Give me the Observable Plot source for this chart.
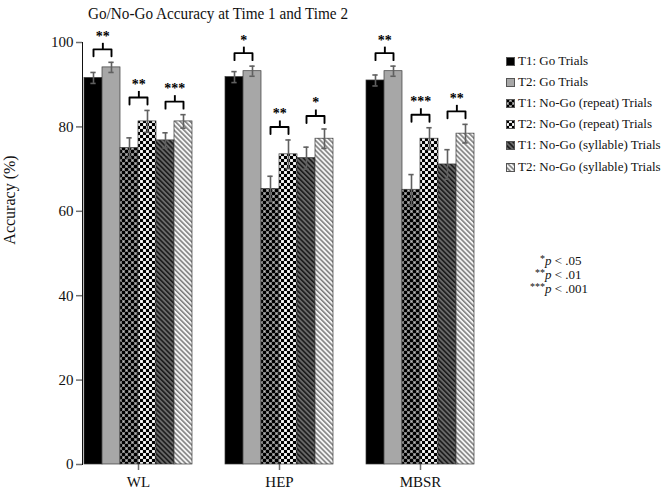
<!DOCTYPE html>
<html><head><meta charset="utf-8">
<script src="https://cdn.jsdelivr.net/npm/d3@7"></script>
<script src="https://cdn.jsdelivr.net/npm/@observablehq/plot@0.6"></script>
<style>
body{margin:0;background:#fff;}
#wrap{position:relative;width:664px;height:492px;font-family:"Liberation Serif","Times New Roman",serif;color:#111;}
#title{position:absolute;left:0;width:436px;top:2px;text-align:center;font-size:17.5px;line-height:22px;transform:scaleX(0.87);transform-origin:218px 0;}
#ylab{position:absolute;left:10px;top:200px;transform:translate(-50%,-50%) rotate(-90deg);font-size:16px;white-space:nowrap;}
#legend{position:absolute;left:505px;top:53px;}
.lrow{position:absolute;left:0;height:16px;line-height:16px;font-size:13px;white-space:nowrap;}
.lrow svg{position:absolute;left:1px;top:4px;}
.lrow span{position:absolute;left:13px;top:0;}
#sig{position:absolute;left:522px;top:254px;font-size:13px;}
.srow{position:absolute;left:0;height:14px;line-height:14px;white-space:nowrap;}
.srow .st{display:inline-block;width:23px;text-align:right;font-size:10px;vertical-align:top;position:relative;top:-2px;}
.srow i{font-style:italic;}
#wrap svg g[aria-label^="y-axis"] path, #wrap svg g[aria-label^="y-axis"] line,
#wrap svg g[aria-label^="fx-axis"] path, #wrap svg g[aria-label^="fx-axis"] line{stroke:#707070;stroke-width:1.5;}
</style></head><body>
<svg width="0" height="0" style="position:absolute">
<defs>
<pattern id="pRep1" width="6" height="6" patternUnits="userSpaceOnUse">
<rect width="6" height="6" fill="#7a7a7a"/><rect width="3" height="3" fill="#000"/><rect x="3" y="3" width="3" height="3" fill="#000"/>
<rect x="4" y="1" width="1" height="1" fill="#bbb"/><rect x="1" y="4" width="1" height="1" fill="#bbb"/>
</pattern>
<pattern id="pRep2" width="6" height="6" patternUnits="userSpaceOnUse">
<rect width="6" height="6" fill="#d0d0d0"/><rect width="3" height="3" fill="#000"/><rect x="3" y="3" width="3" height="3" fill="#000"/>
<rect x="3.5" y="0.5" width="2" height="2" fill="#fff"/><rect x="0.5" y="3.5" width="2" height="2" fill="#fff"/>
</pattern>
<pattern id="pSyl1" width="3.5" height="3.5" patternUnits="userSpaceOnUse" patternTransform="rotate(-45)">
<rect width="3.5" height="3.5" fill="#6a6a6a"/><rect width="1.6" height="3.5" fill="#1a1a1a"/>
</pattern>
<pattern id="pSyl2" width="3.5" height="3.5" patternUnits="userSpaceOnUse" patternTransform="rotate(-45)">
<rect width="3.5" height="3.5" fill="#f4f4f4"/><rect width="1.5" height="3.5" fill="#7a7a7a"/>
</pattern>
</defs>
</svg>
<div id="wrap">
<div id="title">Go/No-Go Accuracy at Time 1 and Time 2</div>
<div id="ylab">Accuracy (%)</div>
<div id="legend"></div>
<div id="sig"></div>
</div>
<script>
// ---- data ----
const groups = ["WL", "HEP", "MBSR"];
const series = [
  "T1: Go Trials",
  "T2: Go Trials",
  "T1: No-Go (repeat) Trials",
  "T2: No-Go (repeat) Trials",
  "T1: No-Go (syllable) Trials",
  "T2: No-Go (syllable) Trials"
];
const meansWL   = [91.6, 94.1, 75.0, 81.3, 76.8, 81.3];
const meansHEP  = [91.8, 93.2, 65.3, 73.5, 72.6, 77.2];
const meansMBSR = [91.0, 93.2, 65.1, 77.2, 71.1, 78.4];
const errWL   = [1.3, 1.2, 2.4, 2.6, 1.8, 1.6];
const errHEP  = [1.3, 1.2, 3.0, 3.4, 2.6, 2.3];
const errMBSR = [1.3, 1.2, 3.6, 2.6, 3.5, 2.2];
const sigWL   = ["**", "**", "***"];
const sigHEP  = ["*", "**", "*"];
const sigMBSR = ["**", "***", "**"];
const yTicks = [0, 20, 40, 60, 80, 100];
const sigNotes = [["*", ".05"], ["**", ".01"], ["***", ".001"]];

// ---- styles ----
const fills = ["#000000", "#a7a7a7", "url(#pRep1)", "url(#pRep2)", "url(#pSyl1)", "url(#pSyl2)"];

// ---- layout ----
const W = 664, H = 492, mT = 42, mB = 28, mL = 59, mR = 173;
const ppu = (H - mT - mB) / 100; // px per % unit
const padIn = 0.205, padOut = 0.132, align = 0.617;
const fxStep = (W - mL - mR) / (groups.length - padIn + 2 * padOut);
const barStep = fxStep * (1 - padIn) / series.length;

const means = [meansWL, meansHEP, meansMBSR];
const errs = [errWL, errHEP, errMBSR];
const sigs = [sigWL, sigHEP, sigMBSR];

const rows = [];
groups.forEach((g, gi) => series.forEach((s, si) => rows.push({group: g, series: s, value: means[gi][si], err: errs[gi][si]})));

const brackets = [], bracketPts = [];
groups.forEach((g, gi) => {
  [[0, 1], [2, 3], [4, 5]].forEach(([a, b], k) => {
    const top = Math.max(means[gi][a] + errs[gi][a], means[gi][b] + errs[gi][b]);
    const id = g + k;
    const yEnd = top + 6 / ppu, yLine = top + 13 / ppu, yPeak = top + 19.5 / ppu, yStar = top + 26 / ppu;
    brackets.push({group: g, a: series[a], yLine, yPeak, yStar, label: sigs[gi][k]});
    bracketPts.push({id, group: g, series: series[a], y: yEnd}, {id, group: g, series: series[a], y: yLine},
                    {id, group: g, series: series[b], y: yLine}, {id, group: g, series: series[b], y: yEnd});
  });
});

const chart = Plot.plot({
  width: W, height: H, marginTop: mT, marginBottom: mB, marginLeft: mL, marginRight: mR,
  style: {fontFamily: '"Liberation Serif","Times New Roman",serif', fontSize: "15px", color: "#111", background: "transparent"},
  fx: {domain: groups, paddingInner: padIn, paddingOuter: padOut, align, label: null, tickSize: 6, tickPadding: 6, line: true},
  x: {domain: series, padding: 0, axis: null},
  y: {domain: [0, 100], ticks: yTicks, tickSize: 6, tickPadding: 3, line: true, label: null},
  color: {domain: series, range: fills},
  marks: [
    Plot.barY(rows, {fx: "group", x: "series", y: "value", fill: "series", stroke: "#3a3a3a", strokeWidth: 0.7}),
    Plot.ruleX(rows, {fx: "group", x: "series", y1: d => d.value - d.err, y2: d => d.value + d.err, stroke: "#606060", strokeWidth: 1.6}),
    Plot.tickY(rows, {fx: "group", x: "series", y: d => d.value + d.err, stroke: "#606060", strokeWidth: 1.6, insetLeft: barStep / 2 - 3, insetRight: barStep / 2 - 3}),
    Plot.tickY(rows, {fx: "group", x: "series", y: d => d.value - d.err, stroke: "#606060", strokeWidth: 1.6, insetLeft: barStep / 2 - 3, insetRight: barStep / 2 - 3}),
    Plot.line(bracketPts, {fx: "group", x: "series", y: "y", z: "id", stroke: "#000", strokeWidth: 1.9, strokeLinejoin: "round"}),
    Plot.link(brackets, {fx: "group", x1: "a", x2: "a", y1: "yLine", y2: "yPeak", dx: barStep / 2, stroke: "#000", strokeWidth: 1.9}),
    Plot.text(brackets, {fx: "group", x: "a", y: "yStar", text: "label", dx: barStep / 2, fontSize: 14, fontWeight: "bold", fill: "#000"})
  ]
});
document.getElementById("wrap").prepend(chart);
chart.style.position = "absolute"; chart.style.left = "0"; chart.style.top = "0";

// legend
const leg = document.getElementById("legend");
series.forEach((s, i) => {
  const r = document.createElement("div");
  r.className = "lrow"; r.style.top = (i * 21.1) + "px";
  r.innerHTML = `<svg width="9" height="9"><rect x="0.5" y="0.5" width="8" height="8" fill="${fills[i]}" stroke="#555" stroke-width="1"/></svg><span>${s}</span>`;
  leg.appendChild(r);
});
const sig = document.getElementById("sig");
sigNotes.forEach(([st, p], i) => {
  const r = document.createElement("div");
  r.className = "srow"; r.style.top = (i * 14) + "px";
  r.innerHTML = `<span class="st">${st}</span><i>p</i> &lt; ${p}`;
  sig.appendChild(r);
});
</script>
</body></html>
